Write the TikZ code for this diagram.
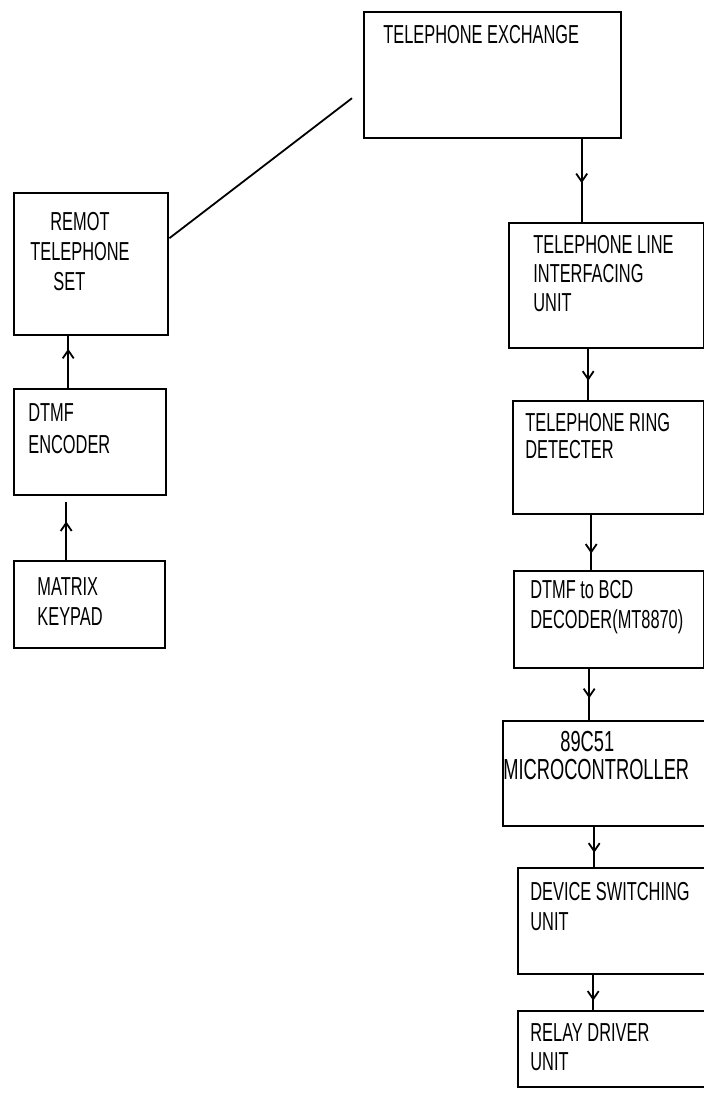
\documentclass[tikz,border=0pt]{standalone}
\usepackage{fontspec}
\setmainfont[FakeStretch=0.63]{Liberation Sans}
\usetikzlibrary{arrows.meta,calc,decorations.markings}
\tikzset{
  blk/.style={draw,line width=1.2pt,anchor=north west,inner sep=0pt},
  txt/.style={anchor=north west,align=left,inner sep=0pt,font=\fontsize{13}{14.5}\selectfont},
  wire/.style={line width=0.9pt},
  link/.style={wire,decoration={markings,mark=at position #1 with {\arrow{Straight Barb[length=4pt,width=5.5pt]}}},postaction={decorate}},
}

\begin{document}
\begin{tikzpicture}[x=0.5pt,y=-0.5pt]
  \useasboundingbox (0,0) rectangle (704,1095);
  % boxes
  \node[blk,minimum width=128.5pt,minimum height=63pt] (exch) at (363,11) {};
  \node[blk,minimum width=77pt,minimum height=71pt] (remote) at (13,192) {};
  \node[blk,minimum width=76pt,minimum height=53pt] (enc) at (13,388) {};
  \node[blk,minimum width=75.5pt,minimum height=43.5pt] (kp) at (13,560) {};
  \node[blk,minimum width=97.5pt,minimum height=62.5pt] (line) at (508,222) {};
  \node[blk,minimum width=95.5pt,minimum height=56.5pt] (ring) at (512,400) {};
  \node[blk,minimum width=95pt,minimum height=48.5pt] (dec) at (513,570) {};
  \node[blk,minimum width=103pt,minimum height=52.5pt] (micro) at (502,720) {};
  \node[blk,minimum width=95.5pt,minimum height=53pt] (dev) at (517,867) {};
  \node[blk,minimum width=95.5pt,minimum height=38pt] (relay) at (517,1010) {};
  % texts
  \node[txt] (exchtxt) at (383,25) {TELEPHONE EXCHANGE};
  \node[txt,font=\fontsize{13}{15}\selectfont] (remtxt) at (30,212) {\hspace*{10pt}REMOT\\TELEPHONE\\\hspace*{11.5pt}SET};
  \node[txt,font=\fontsize{13}{16}\selectfont] (enctxt) at (28,403) {DTMF\\ENCODER};
  \node[txt,font=\fontsize{13}{15}\selectfont] (kptxt) at (37,577) {MATRIX\\KEYPAD};
  \node[txt] (linetxt) at (533,235) {TELEPHONE LINE\\INTERFACING\\UNIT};
  \node[txt,font=\fontsize{13}{13.5}\selectfont] (ringtxt) at (525,413) {TELEPHONE RING\\DETECTER};
  \node[txt,font=\fontsize{13}{15}\selectfont] (dectxt) at (530,580) {DTMF to BCD\\DECODER(MT8870)};
  \node[txt,font=\fontsize{14.5}{14}\selectfont] (microtxt) at (503,731) {\hspace*{28.5pt}89C51\\MICROCONTROLLER};
  \node[txt,font=\fontsize{13}{15}\selectfont] (devtxt) at (530,882) {DEVICE SWITCHING\\UNIT};
  \node[txt] (relaytxt) at (530,1023) {RELAY DRIVER\\UNIT};
  % connectors
  \draw[wire] ($(remote.east)+(0,13pt)$) -- ($(exch.west)+(-5.5pt,-11.5pt)$);
  \draw[link=.76] ($(enc.north)+(-11pt,0)$) -- ($(enc.north |- remote.south)+(-11pt,0)$);
  \draw[link=.67] ($(kp.north)+(-11.75pt,0)$) -- ($(kp.north |- enc.south)+(-11.75pt,-3pt)$);
  \draw[link=.53] ($(exch.south -| line.north)+(-12.5pt,0)$) -- ($(line.north)+(-12.5pt,0)$);
  \draw[link=.62] ($(line.south)+(-9.25pt,0)$) -- ($(line.south |- ring.north)+(-9.25pt,0)$);
  \draw[link=.7] ($(ring.south)+(-8.75pt,0)$) -- ($(ring.south |- dec.north)+(-8.75pt,0)$);
  \draw[link=.57] ($(dec.south)+(-10pt,0)$) -- ($(dec.south |- micro.north)+(-10pt,0)$);
  \draw[link=.64] ($(micro.south)+(-6pt,0)$) -- ($(micro.south |- dev.north)+(-6pt,0)$);
  \draw[link=.73] ($(dev.south)+(-10.25pt,0)$) -- ($(dev.south |- relay.north)+(-10.25pt,0)$);
\end{tikzpicture}
\end{document}
